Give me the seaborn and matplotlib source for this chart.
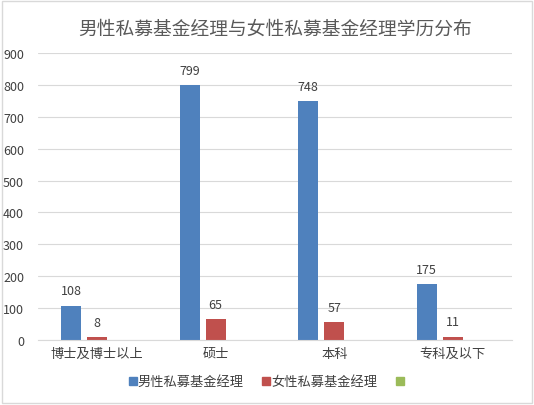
import pandas as pd
import numpy as np
import matplotlib
matplotlib.use('Agg')
import matplotlib.pyplot as plt
from matplotlib.patches import Patch
import seaborn as sns

# 数据
categories = ['博士及博士以上', '硕士', '本科', '专科及以下']
series_names = ['男性私募基金经理', '女性私募基金经理', '']
male = [108, 799, 748, 175]
female = [8, 65, 57, 11]
third = [0, 0, 0, 0]
colors = ['#4F81BD', '#C0504D', '#9BBB59']

sns.set_style('white')
plt.rcParams['font.family'] = ['Noto Sans CJK SC', 'DejaVu Sans']

rows = []
for name, vals in zip(series_names, [male, female, third]):
    for c, v in zip(categories, vals):
        rows.append({'学历': c, '类别': name, '人数': v})
df = pd.DataFrame(rows)

fig = plt.figure(figsize=(5.34, 4.06), dpi=100)
ax = fig.add_axes([0.071, 0.160, 0.888, 0.707])
sns.barplot(data=df, x='学历', y='人数', hue='类别', hue_order=series_names,
            order=categories, palette=colors, saturation=1, width=0.66, gap=0.23,
            linewidth=0, ax=ax, legend=False)

ax.set_ylim(0, 900)
ax.set_xlim(-0.5, 3.5)
ax.set_yticks(range(0, 901, 100))
ax.yaxis.grid(True, color='#D9D9D9', linewidth=0.8)
ax.set_axisbelow(True)
for s in ['top', 'right', 'left']:
    ax.spines[s].set_visible(False)
ax.spines['bottom'].set_color('#D9D9D9')
ax.tick_params(axis='both', length=0, colors='#404040', labelsize=9)
ax.tick_params(axis='x', pad=5, labelsize=9.5)
ax.tick_params(axis='y', pad=10)
ax.set_xlabel('')
ax.set_ylabel('')

# 数据标签
for cont in ax.containers[:2]:
    ax.bar_label(cont, padding=6, fontsize=9, color='#404040')

ax.set_title('男性私募基金经理与女性私募基金经理学历分布', fontsize=13.5,
             color='#595959', pad=14)

handles = [Patch(color=c) for c in colors]
fig.legend(handles, series_names, loc='center', bbox_to_anchor=(0.5, 0.057),
           ncol=3, frameon=False, fontsize=9.5, handlelength=0.6,
           handleheight=0.6, handletextpad=0.1, columnspacing=1.4,
           labelcolor='#404040')

fig.patches.append(plt.Rectangle((0.004, 0.004), 0.992, 0.992, transform=fig.transFigure,
                                 fill=False, edgecolor='#D9D9D9', linewidth=1))

fig.savefig('out.png', dpi=100)
